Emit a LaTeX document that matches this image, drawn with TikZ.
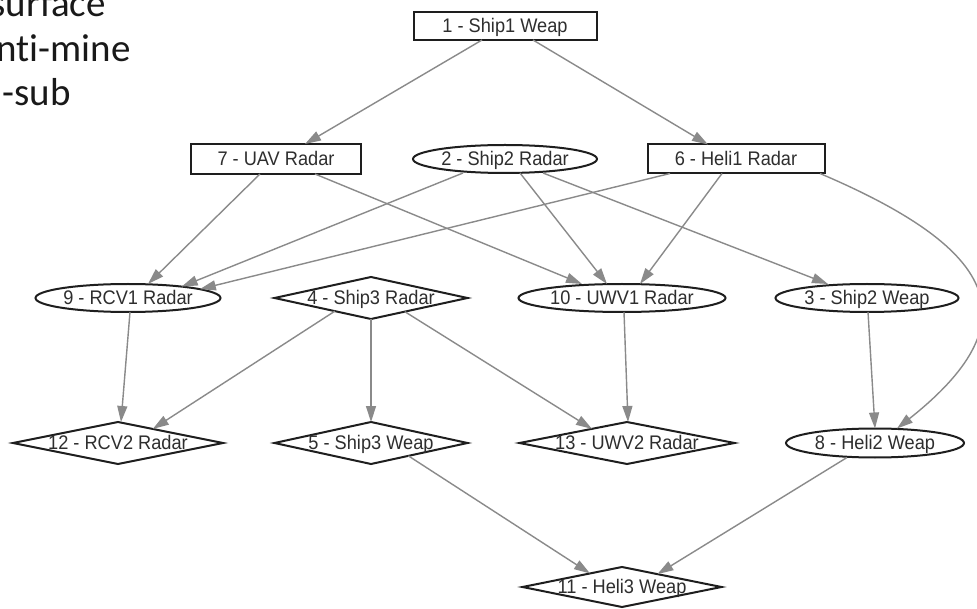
\documentclass[tikz,border=0pt]{standalone}
\usepackage{fontspec}
\setmainfont{Liberation Sans}
\newfontfamily\notefont[Ligatures=NoCommon]{Carlito}
\usetikzlibrary{shapes.geometric,arrows.meta}

\definecolor{edgegray}{HTML}{8A8A8A}
\definecolor{nodeline}{HTML}{1E1E1E}
\definecolor{labeltext}{HTML}{2E2E2E}

% label of zero size, vertically centred on the node centre,
% so that the shape takes exactly its minimum size
\newcommand\ctext[1]{\makebox[0pt]{\raisebox{-0.38em}[0pt][0pt]{\scalebox{1}[1.08]{#1}}}}

\begin{document}
\begin{tikzpicture}[x=1pt,y=-1pt,
  base/.style={draw=nodeline, line width=2pt, inner sep=0pt, outer sep=0pt,
    text=labeltext, font={\fontsize{18.2}{22}\selectfont}},
  box/.style={base, rectangle},
  oval/.style={base, ellipse},
  rhomb/.style={base, diamond},
  link/.style={draw=edgegray, line width=1.4pt, -{Triangle[length=16pt,width=10pt]}},
  note/.style={anchor=base east, inner sep=0pt, text=black!90,
    font={\notefont\fontsize{39}{44}\selectfont}}
]
\fill[white] (0,0) rectangle (977,609);
\useasboundingbox (0,0) rectangle (977,609);

% legend words in the upper left corner, running off the left edge
\node[note] (t1) at (106,17) {anti-surface};
\node[note] (t2) at (131,62) {anti-mine};
\node[note] (t3) at (71,106) {anti-sub};

% first rank
\node[box, minimum width=183pt, minimum height=28pt] (n1) at (505,26) {\ctext{1 - Ship1 Weap}};

% second rank
\node[box,  minimum width=170pt, minimum height=30pt] (n7) at (276,159) {\ctext{7 - UAV Radar}};
\node[oval, minimum width=184pt, minimum height=28pt] (n2) at (505,159) {\ctext{2 - Ship2 Radar}};
\node[box,  minimum width=177pt, minimum height=29pt] (n6) at (736,159) {\ctext{6 - Heli1 Radar}};

% third rank
\node[oval,  minimum width=185pt, minimum height=28pt] (n9)  at (128,298) {\ctext{9 - RCV1 Radar}};
\node[rhomb, minimum width=193pt, minimum height=42pt] (n4)  at (371,298) {\ctext{4 - Ship3 Radar}};
\node[oval,  minimum width=207pt, minimum height=28pt] (n10) at (622,298) {\ctext{10 - UWV1 Radar}};
\node[oval,  minimum width=183pt, minimum height=28pt] (n3)  at (867,298) {\ctext{3 - Ship2 Weap}};

% fourth rank
\node[rhomb, minimum width=210pt, minimum height=42pt] (n12) at (118,443) {\ctext{12 - RCV2 Radar}};
\node[rhomb, minimum width=193pt, minimum height=42pt] (n5)  at (371,443) {\ctext{5 - Ship3 Weap}};
\node[rhomb, minimum width=215pt, minimum height=42pt] (n13) at (627,443) {\ctext{13 - UWV2 Radar}};
\node[oval,  minimum width=178pt, minimum height=29pt] (n8)  at (875,443) {\ctext{8 - Heli2 Weap}};

% last rank
\node[rhomb, minimum width=199pt, minimum height=40pt] (n11) at (622,587) {\ctext{11 - Heli3 Weap}};

% connectors
\draw[link] ([xshift=-23pt]n1.south) -- ([xshift=29pt]n7.north);
\draw[link] ([xshift=28pt]n1.south)  -- ([xshift=-28pt]n6.north);

\draw[link] ([xshift=-16pt]n7.south) -- ([xshift=20pt]n9.north);
\draw[link] ([xshift=39pt]n7.south)  -- ([xshift=-40pt]n10.north);

\draw[link] ([xshift=-42pt]n2.south) -- (n9.12);
\draw[link] ([xshift=15pt]n2.south)  -- ([xshift=-15pt]n10.north);
\draw[link] ([xshift=38pt]n2.south)  -- ([xshift=-39pt]n3.north);

\draw[link] ([xshift=-66pt]n6.south) -- (n9.7);
\draw[link] ([xshift=-14pt]n6.south) -- ([xshift=18pt]n10.north);
\draw[link] ([xshift=84pt]n6.south) .. controls (1002,251) and (1030,323) .. ([xshift=22pt]n8.north);

\draw[link] ([xshift=2pt]n9.south) -- ([xshift=3pt]n12.north);

\draw[link] (n4.-160) -- (n12.22);
\draw[link] (n4.south) -- (n5.north);
\draw[link] (n4.-22) -- (n13.158);

\draw[link] ([xshift=2pt]n10.south) -- ([xshift=1pt]n13.north);
\draw[link] ([xshift=1pt]n3.south) -- (n8.north);

\draw[link] (n5.-19) -- (n11.157);
\draw[link] ([xshift=-28pt]n8.south) -- (n11.20);
\end{tikzpicture}
\end{document}
